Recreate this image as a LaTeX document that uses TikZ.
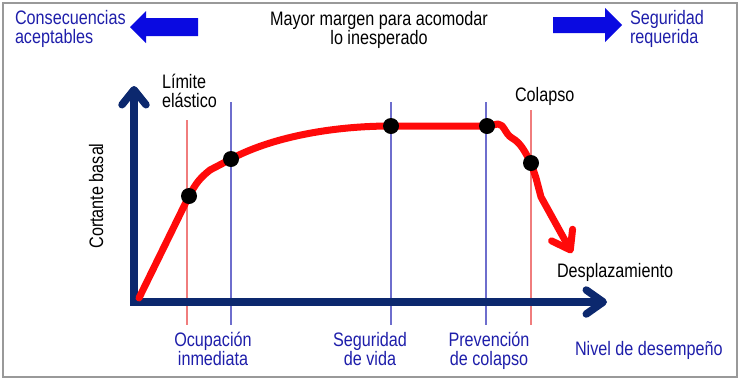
\documentclass[tikz,border=0pt]{standalone}
\usepackage{fontspec}
\setmainfont{Liberation Sans}[FakeStretch=0.83]
\usetikzlibrary{arrows.meta}
\definecolor{navy}{RGB}{12,40,110}
\definecolor{txtblue}{RGB}{30,30,170}
\definecolor{arrblue}{RGB}{10,10,225}
\definecolor{guidered}{RGB}{240,125,125}
\definecolor{guideblue}{RGB}{110,110,205}
\definecolor{curvered}{RGB}{255,10,10}
\begin{document}
\begin{tikzpicture}[x=1pt,y=-1pt,
  txt/.style={font=\fontsize{19.5}{19.5}\selectfont, inner sep=0pt, outer sep=0pt},
  lbl/.style={txt, text=txtblue, align=center},
  guide/.style={line width=1.3pt},
  dot/.style={circle, fill=black, inner sep=0pt, minimum size=16pt},
  axis/.style={navy, line width=7.5pt, line join=miter},
  curve/.style={curvered, line width=7pt, line cap=round, line join=round},
  bigarrow/.style={fill=arrblue}]
\useasboundingbox (0,0) rectangle (743,384);
\draw[gray!80, line width=1.5pt] (3,3) rectangle (737,377);

% big blue arrows
\fill[bigarrow] (130,27) -- (146,11) -- (146,18) -- (198,18) -- (198,36) -- (146,36) -- (146,43) -- cycle;
\fill[bigarrow] (622,25) -- (605,8) -- (605,17) -- (553,17) -- (553,33) -- (605,33) -- (605,42) -- cycle;

% texts
\node[txt, text=txtblue, align=left, anchor=north west] (cons) at (15,10) {Consecuencias\\aceptables};
\node[txt, align=center, anchor=north] (mayor) at (379,11) {Mayor margen para acomodar\\lo inesperado};
\node[txt, text=txtblue, align=left, anchor=north west] (segreq) at (630,10) {Seguridad\\requerida};
\node[txt, align=left, anchor=north west] (lim) at (162,74) {Límite\\elástico};
\node[txt, anchor=base west] (col) at (515,101) {Colapso};
\node[txt, anchor=base west] (desp) at (557,277) {Desplazamiento};
\node[txt, rotate=90, anchor=base] (cort) at (103,196) {Cortante basal};
\node[lbl, anchor=north] (ocup) at (213,332) {Ocupación\\inmediata};
\node[lbl, anchor=north] (segv) at (370,332) {Seguridad\\de vida};
\node[lbl, anchor=north] (prev) at (489,332) {Prevención\\de colapso};
\node[txt, text=txtblue, anchor=base west] (nivel) at (575,355) {Nivel de desempeño};

% guide lines
\draw[guide, guidered] (187,120) -- (187,325);
\draw[guide, guideblue] (231,102) -- (231,325);
\draw[guide, guideblue] (391,102) -- (391,325);
\draw[guide, guideblue] (486,102) -- (486,325);
\draw[guide, guidered] (531,110) -- (531,325);

% axes
\coordinate (ytip) at (134,86);
\coordinate (corner) at (134,302);
\coordinate (xtip) at (607,302);
\draw[axis, {Straight Barb[length=15pt,width=24pt,line cap=round,line join=round]}-{Straight Barb[length=17pt,width=24pt,line cap=round,line join=round]}] (ytip) -- (corner) -- (xtip);

% curve
\coordinate (o) at (139,298);
\coordinate (p1) at (189,196);
\coordinate (p2) at (231,159);
\coordinate (p3) at (391,126);
\coordinate (p4) at (487,126);
\coordinate (p5) at (531,163);
\coordinate (ctip) at (572,253);
\draw[curve, -{Straight Barb[length=17pt,width=24pt,line cap=round,line join=round]}]
  (o) -- (p1) .. controls (196,183) and (200,178) .. (210,170) -- (p2)
  .. controls (270,138) and (330,126) .. (p3) -- (p4) -- (498,124)
  .. controls (504,124) and (505,134) .. (512,138)
  .. controls (521,143) and (525,152) .. (p5) -- (536,178) -- (541,197) -- (ctip);

% dots
\node[dot] (d1) at (p1) {};
\node[dot] (d2) at (p2) {};
\node[dot] (d3) at (p3) {};
\node[dot] (d4) at (p4) {};
\node[dot] (d5) at (p5) {};
\end{tikzpicture}
\end{document}
